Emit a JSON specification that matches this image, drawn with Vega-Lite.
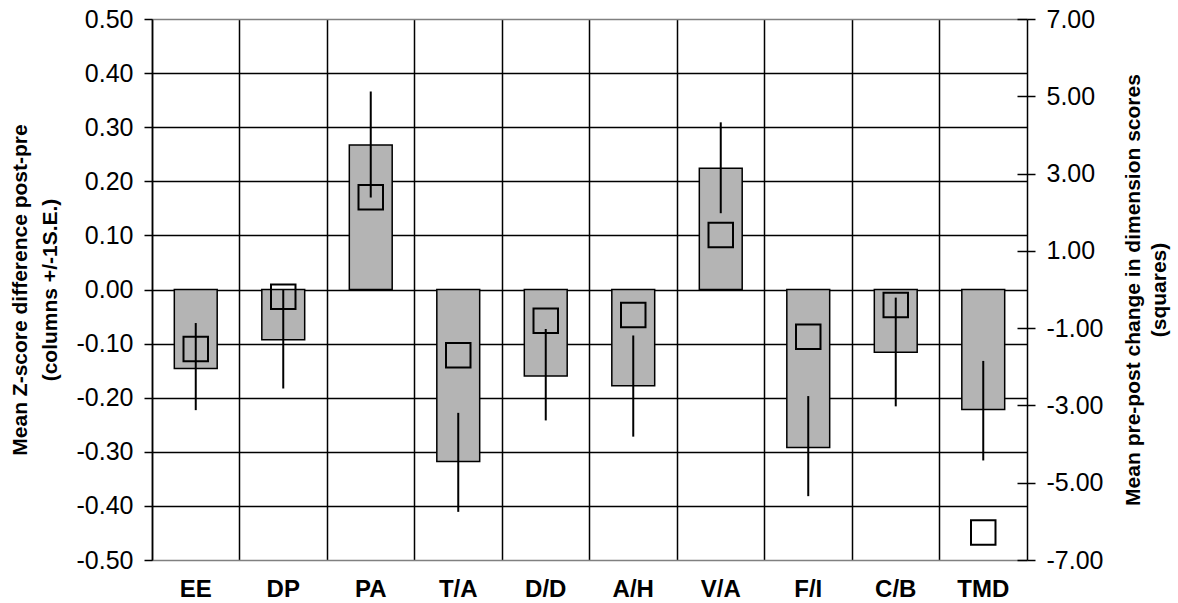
{
  "$schema": "https://vega.github.io/schema/vega-lite/v6.json",
  "width": 875,
  "height": 541,
  "autosize": {"type": "none"},
  "padding": {"left": 152, "top": 19, "right": 151, "bottom": 43},
  "background": "white",
  "config": {
    "view": {"stroke": null},
    "font": "Liberation Sans",
    "axis": {"labelFont": "Liberation Sans", "titleFont": "Liberation Sans", "labelFlush": false}
  },
  "data": {
    "values": [
      {"cat": "EE", "z": -0.146, "lo": -0.223, "hi": -0.062, "sq": -1.54},
      {"cat": "DP", "z": -0.093, "lo": -0.183, "hi": 0.0, "sq": -0.19},
      {"cat": "PA", "z": 0.267, "lo": 0.170, "hi": 0.366, "sq": 2.39},
      {"cat": "T/A", "z": -0.318, "lo": -0.411, "hi": -0.228, "sq": -1.70},
      {"cat": "D/D", "z": -0.160, "lo": -0.242, "hi": -0.073, "sq": -0.81},
      {"cat": "A/H", "z": -0.178, "lo": -0.272, "hi": -0.085, "sq": -0.66},
      {"cat": "V/A", "z": 0.224, "lo": 0.141, "hi": 0.309, "sq": 1.41},
      {"cat": "F/I", "z": -0.292, "lo": -0.382, "hi": -0.197, "sq": -1.22},
      {"cat": "C/B", "z": -0.116, "lo": -0.216, "hi": -0.015, "sq": -0.40},
      {"cat": "TMD", "z": -0.222, "lo": -0.316, "hi": -0.132, "sq": -6.29}
    ]
  },
  "encoding": {
    "x": {
      "field": "cat",
      "type": "nominal",
      "sort": null,
      "scale": {"paddingInner": 0, "paddingOuter": 0},
      "axis": {
        "title": null,
        "labelAngle": 0,
        "labelFontSize": 24,
        "labelFontWeight": "bold",
        "labelColor": "black",
        "ticks": false,
        "tickSize": 0,
        "labelPadding": 17,
        "domain": false,
        "grid": true,
        "gridColor": "black",
        "gridWidth": 1.5,
        "bandPosition": 0
      }
    }
  },
  "layer": [
    {
      "mark": {"type": "bar", "fill": "#b4b4b4", "stroke": "black", "strokeWidth": 1.5, "width": {"band": 0.49}},
      "encoding": {
        "y": {
          "field": "z",
          "type": "quantitative",
          "scale": {"domain": [-0.5, 0.5], "nice": false},
          "axis": {
            "orient": "left",
            "title": ["Mean Z-score difference post-pre", "(columns +/-1S.E.)"],
            "titleFontSize": 21,
            "titleFontWeight": "bold",
            "titleColor": "black",
            "titleLineHeight": 30,
            "titlePadding": 16,
            "values": [-0.5, -0.4, -0.3, -0.2, -0.1, 0, 0.1, 0.2, 0.3, 0.4, 0.5],
            "labelExpr": "replace(format(datum.value, '.2f'), '\u2212', '-')",
            "labelFontSize": 25,
            "labelColor": "black",
            "labelPadding": 11,
            "tickSize": 8,
            "tickColor": "black",
            "tickWidth": 1.5,
            "domainColor": "black",
            "domainWidth": 1.5,
            "grid": true,
            "gridColor": {"condition": {"test": "abs(datum.value) > 0.49", "value": "#808080"}, "value": "black"},
            "gridWidth": 1.5
          }
        }
      }
    },
    {
      "mark": {"type": "rule", "color": "black", "strokeWidth": 2},
      "encoding": {
        "y": {"field": "lo", "type": "quantitative", "scale": {"domain": [-0.5, 0.5], "nice": false}, "axis": null},
        "y2": {"field": "hi"}
      }
    },
    {
      "mark": {"type": "point", "shape": "square", "size": 600, "filled": false, "stroke": "black", "strokeWidth": 2, "opacity": 1},
      "encoding": {
        "y": {
          "field": "sq",
          "type": "quantitative",
          "scale": {"domain": [-7, 7], "nice": false},
          "axis": {
            "orient": "right",
            "title": ["Mean pre-post change in dimension scores", "(squares)"],
            "titleAngle": 270,
            "titleBaseline": "top",
            "titleFontSize": 21,
            "titleFontWeight": "bold",
            "titleColor": "black",
            "titleLineHeight": 26,
            "titlePadding": -6,
            "values": [-7, -5, -3, -1, 1, 3, 5, 7],
            "labelExpr": "replace(format(datum.value, '.2f'), '\u2212', '-')",
            "labelFontSize": 25,
            "labelColor": "black",
            "labelPadding": 11,
            "tickSize": 8,
            "tickColor": "black",
            "tickWidth": 1.5,
            "domainColor": "black",
            "domainWidth": 1.5,
            "grid": false
          }
        }
      }
    },
    {
      "mark": {"type": "point", "opacity": 0},
      "encoding": {
        "y": {
          "field": "sq",
          "type": "quantitative",
          "scale": {"domain": [-7, 7], "nice": false},
          "axis": {
            "orient": "right",
            "title": null,
            "values": [-7, -5, -3, -1, 1, 3, 5, 7],
            "labels": false,
            "domain": false,
            "grid": false,
            "tickSize": -10,
            "tickColor": "black",
            "tickWidth": 1.5
          }
        }
      }
    }
  ],
  "resolve": {"scale": {"y": "independent"}, "axis": {"y": "independent"}}
}
